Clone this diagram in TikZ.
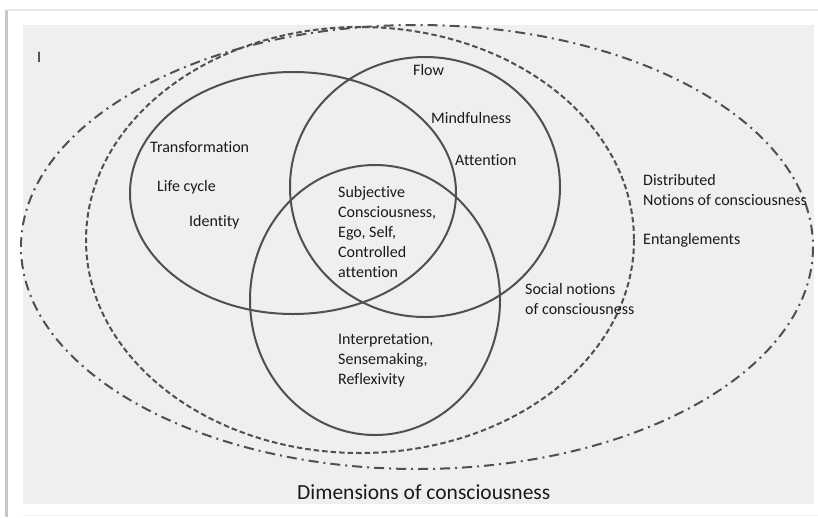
\documentclass[tikz,border=0pt]{standalone}
\usepackage{fontspec}
\setmainfont{Carlito}[Ligatures=NoCommon]
\usepackage{xcolor}
\usepackage{tikz}

\definecolor{panel}{HTML}{EFEFEF}
\definecolor{rim}{HTML}{505050}
\definecolor{ink}{HTML}{1A1A1A}

\begin{document}
\begin{tikzpicture}[x=1pt, y=-1pt,
    ring/.style={draw=rim, line width=2pt},
    social/.style={draw=rim, line width=2pt, dash pattern=on 5.5pt off 3pt},
    distrib/.style={draw=rim, line width=2pt, dash pattern=on 10pt off 5pt on 2pt off 5pt},
    lbl/.style={text=ink, font=\fontsize{16}{20}\selectfont, anchor=west, inner sep=0pt, align=left}]
    \useasboundingbox (0,0) rectangle (818,517);

    % Page and grey panel  (pixel coordinates, y downwards)
    \fill[white] (0,0) rectangle (818,517);
    \draw[black!22, line width=2.5pt] (6.5,517) -- (6.5,10);
    \draw[black!9, line width=1.5pt] (6.5,10) -- (818,10);
    \draw[black!6, line width=1pt] (23,515) -- (818,515);
    \fill[panel] (23,25) rectangle (814,504);

    % Outer rings: distributed (dash dot) and social (dashed)
    \draw[distrib] (417,247) ellipse [x radius=396, y radius=222];
    \draw[social] (360,240) ellipse [x radius=274, y radius=213];

    % Three overlapping circles
    \draw[ring] (293,193) ellipse [x radius=163, y radius=121];
    \draw[ring] (425,187) ellipse [x radius=135, y radius=130];
    \draw[ring] (375,300) ellipse [x radius=125, y radius=135];

    % Corner mark
    \node[lbl] (mark) at (37,57) {I};

    % Top circle
    \node[lbl] (flow) at (413,70) {Flow};
    \node[lbl] (mindful) at (431,118) {Mindfulness};
    \node[lbl] (attention) at (455,160) {Attention};

    % Left circle
    \node[lbl] (transform) at (150,147) {Transformation};
    \node[lbl] (lifecycle) at (157,187) {Life cycle};
    \node[lbl] (identity) at (189,222) {Identity};

    % Centre and bottom circle
    \node[lbl] (subjective) at (338,232) {Subjective\\Consciousness,\\Ego, Self,\\Controlled\\attention};
    \node[lbl] (interpret) at (338,360) {Interpretation,\\Sensemaking,\\Reflexivity};

    % Ring labels
    \node[lbl] (social) at (525,299) {Social notions\\of consciousness};
    \node[lbl] (distributed) at (643,190) {Distributed\\Notions of consciousness};
    \node[lbl] (entangle) at (643,240) {Entanglements};

    % Caption
    \node[lbl, font=\fontsize{21.5}{25}\selectfont] (caption) at (297,492) {Dimensions of consciousness};
\end{tikzpicture}
\end{document}
